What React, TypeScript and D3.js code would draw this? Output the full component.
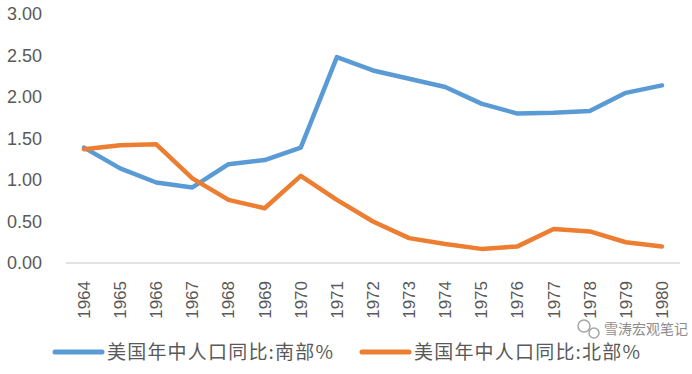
import React from 'react';
import * as d3 from 'd3';

const years = ['1964', '1965', '1966', '1967', '1968', '1969', '1970', '1971', '1972', '1973', '1974', '1975', '1976', '1977', '1978', '1979', '1980'];
const south = [1.39, 1.14, 0.97, 0.91, 1.19, 1.24, 1.39, 2.48, 2.32, 2.22, 2.12, 1.92, 1.80, 1.81, 1.83, 2.05, 2.14];
const north = [1.37, 1.42, 1.43, 1.02, 0.76, 0.66, 1.05, 0.76, 0.50, 0.30, 0.23, 0.17, 0.20, 0.41, 0.38, 0.25, 0.20];
const yTicks = [0, 0.5, 1, 1.5, 2, 2.5, 3];
const seriesNames = ['美国年中人口同比:南部%', '美国年中人口同比:北部%'];
const colors = ['#5B9BD5', '#ED7D31'];

const W = 692;
const H = 374;

const App: React.FC = () => {
  const x = d3.scaleBand().domain(years).range([66, 680]);
  const y = d3.scaleLinear().domain([0, 3]).range([263, 14]);
  const cx = (d: string) => (x(d) ?? 0) + x.bandwidth() / 2;

  const line = d3.line<number>()
    .x((_, i) => cx(years[i]))
    .y(d => y(d));

  const series = [south, north];
  const legendX = [55, 362];

  return (
    <svg width={W} height={H} style={{ position: 'absolute', left: 0, top: 0, background: '#fff' }}>
      {/* y labels */}
      {yTicks.map(t => (
        <text key={t} x={42} y={y(t)} dy="0.35em" textAnchor="end"
          fontFamily="'Liberation Sans', Arial, sans-serif" fontSize={18} fill="#595959">
          {t.toFixed(2)}
        </text>
      ))}

      {/* baseline */}
      <line x1={66} x2={680} y1={y(0)} y2={y(0)} stroke="#d9d9d9" strokeWidth={1.5} />

      {/* x labels */}
      {years.map(yr => (
        <text key={yr} transform={`translate(${cx(yr)},281) rotate(-90)`} dy="0.35em" textAnchor="end"
          fontFamily="'Liberation Sans', Arial, sans-serif" fontSize={17} fill="#595959">
          {yr}
        </text>
      ))}

      {/* lines */}
      {series.map((s, i) => (
        <path key={i} d={line(s) ?? ''} fill="none" stroke={colors[i]} strokeWidth={4.5}
          strokeLinejoin="round" strokeLinecap="round" />
      ))}

      {/* legend */}
      {seriesNames.map((name, i) => (
        <g key={name} transform={`translate(${legendX[i]},352)`}>
          <line x1={0} x2={47} y1={0} y2={0} stroke={colors[i]} strokeWidth={5} strokeLinecap="round" />
          <text x={52} y={0} dy="0.35em" fontFamily="'Noto Sans CJK SC', sans-serif" fontSize={19}
            letterSpacing={1.2} fill="#595959">
            {name}
          </text>
        </g>
      ))}

      {/* watermark */}
      <g opacity={0.75}>
        <circle cx={584} cy={326} r={6} fill="none" stroke="#888" strokeWidth={1.5} />
        <circle cx={594} cy={333} r={5} fill="none" stroke="#888" strokeWidth={1.5} />
        <text x={604} y={329} dy="0.35em" fontFamily="'Noto Sans CJK SC', sans-serif" fontSize={14} fill="#666">
          雪涛宏观笔记
        </text>
      </g>
    </svg>
  );
};

export default App;
